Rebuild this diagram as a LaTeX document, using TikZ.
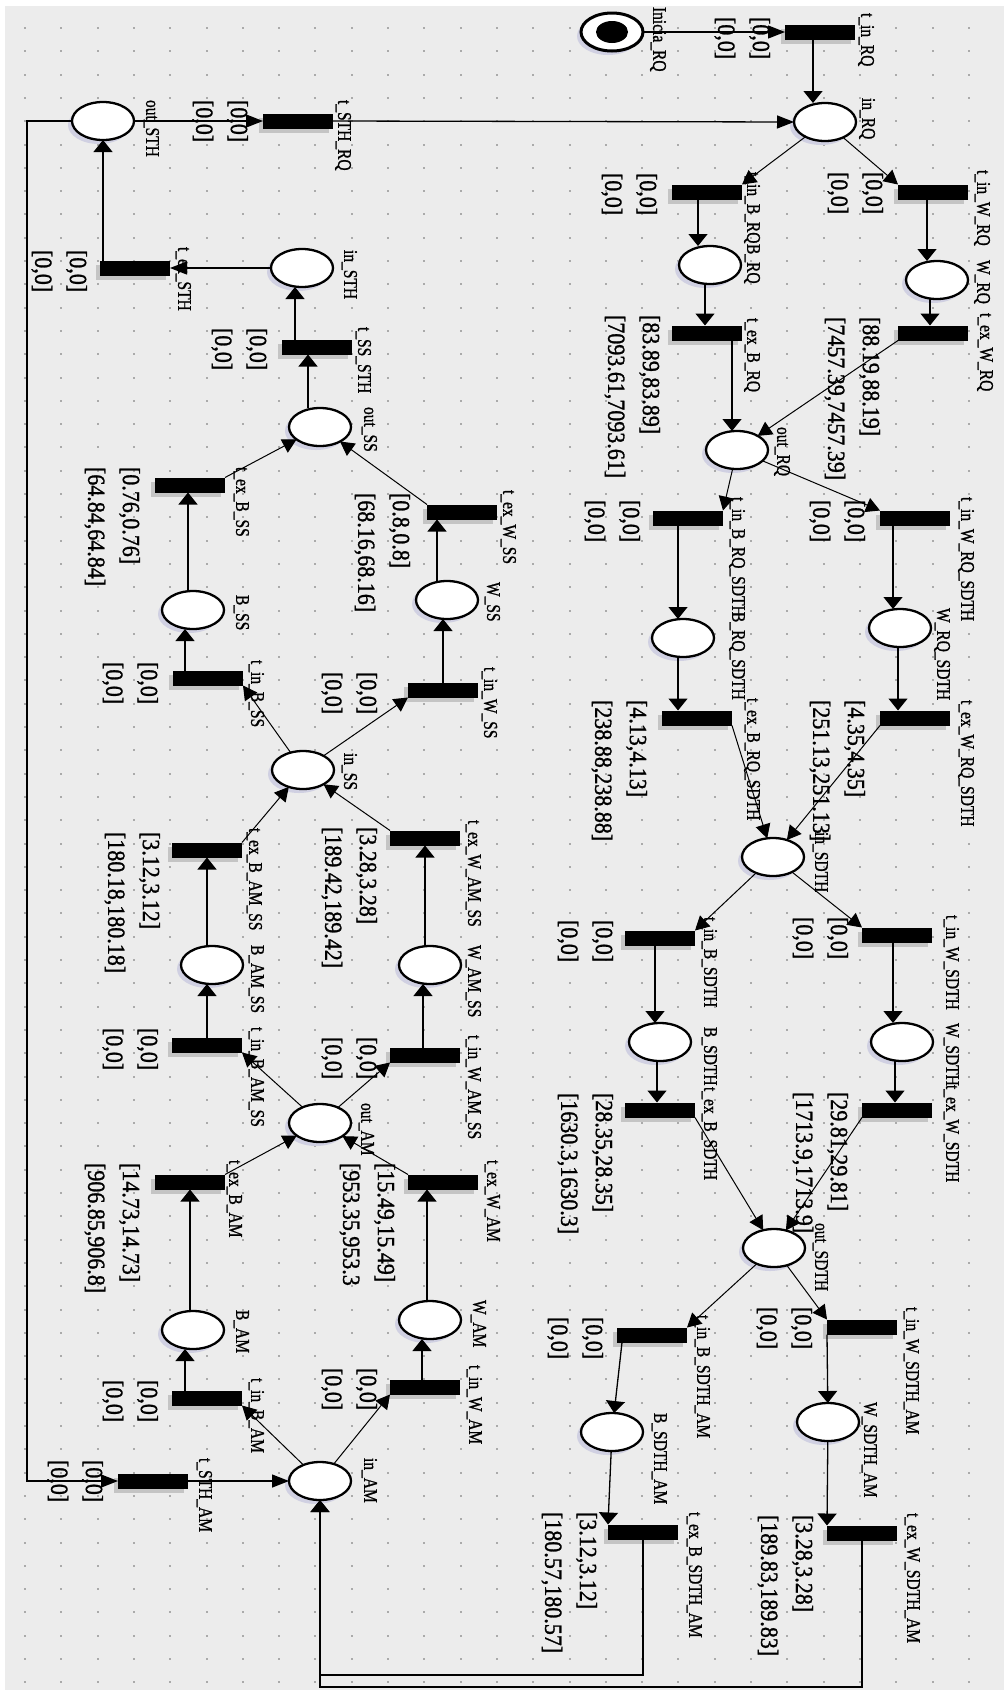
\documentclass[tikz,border=0pt]{standalone}
\usepackage{fontspec}
\setmainfont{Liberation Serif}
\newfontfamily\lblfont[FakeBold=1.2]{Liberation Serif}
\usetikzlibrary{arrows.meta,shapes.geometric,shadows}
\definecolor{bgc}{RGB}{236,236,236}
\definecolor{dotc}{RGB}{170,170,170}
\definecolor{pshadow}{RGB}{208,208,226}
\definecolor{tshadow}{RGB}{196,196,196}
\newcommand\nlab[4]{\node[nlabel] (#1) at (#2,#3) {#4};}
\newcommand\ilab[5]{\node[ilabel] (#1) at (#2,#3) {#4\\\relax #5};}
\newcommand\zlab[3]{\ilab{#1}{#2}{#3}{[0,0]}{[0,0]}}
\begin{document}
\begin{tikzpicture}[x=1pt,y=-1pt,
  place/.style={ellipse, draw=black, line width=2.3pt, fill=white, minimum width=62pt, minimum height=38pt, inner sep=0pt, outer sep=0pt, drop shadow={shadow xshift=-4pt, shadow yshift=-4pt, fill=pshadow, opacity=1}},
  trans/.style={rectangle, fill=black, minimum width=70pt, minimum height=15pt, inner sep=0pt, outer sep=0pt, drop shadow={shadow xshift=-4pt, shadow yshift=-4pt, fill=tshadow, opacity=1}},
  nlabel/.style={rotate=-90, yscale=1.25, anchor=north west, inner sep=0pt, outer sep=0pt, font=\lblfont\fontsize{15.5}{18}\selectfont},
  ilabel/.style={rotate=-90, yscale=1.12, anchor=north west, inner sep=0pt, outer sep=0pt, align=left, font=\lblfont\fontsize{22}{31}\selectfont},
  varc/.style={line width=1.3pt, -{Triangle[length=12pt,width=19pt]}},
  harc/.style={line width=1.3pt, -{Triangle[length=17pt,width=13pt]}},
  darc/.style={line width=1pt, -{Triangle[length=14pt,width=15pt]}}]
\useasboundingbox (0,0) rectangle (1004,1690);
\fill[white] (0,0) rectangle (1004,1690);
\fill[bgc] (5,6) rectangle (1004,1690);
\foreach \i in {0,...,27}{\foreach \j in {0,...,71}{\fill[dotc] ({24+36.3*\i},{27+23.3*\j}) rectangle ++(2,2);}}

% places
\node[place, line width=3pt] (init) at (612,32) {};
\fill (init.center) ellipse [x radius=16, y radius=11];
\node[place] (in_RQ) at (825,122) {};
\node[place] (B_RQ) at (710,265) {};
\node[place] (W_RQ) at (937,280) {};
\node[place] (out_RQ) at (737,450) {};
\node[place] (B_RQ_SDTH) at (683,638) {};
\node[place] (W_RQ_SDTH) at (900,628) {};
\node[place] (in_SDTH) at (773,857) {};
\node[place] (B_SDTH) at (660,1042) {};
\node[place] (W_SDTH) at (902,1042) {};
\node[place] (out_SDTH) at (774,1248) {};
\node[place] (B_SDTH_AM) at (612,1432) {};
\node[place] (W_SDTH_AM) at (828,1422) {};
\node[place] (in_AM) at (320,1481) {};
\node[place] (B_AM) at (193,1330) {};
\node[place] (W_AM) at (430,1320) {};
\node[place] (out_AM) at (320,1123) {};
\node[place] (B_AM_SS) at (212,965) {};
\node[place] (W_AM_SS) at (430,965) {};
\node[place] (in_SS) at (303,770) {};
\node[place] (B_SS) at (193,610) {};
\node[place] (W_SS) at (447,600) {};
\node[place] (out_SS) at (320,427) {};
\node[place] (in_STH) at (302,268) {};
\node[place] (out_STH) at (103,121) {};

% transitions
\node[trans] (t_in_RQ) at (820,32) {};
\node[trans] (t_in_B_RQ) at (707,192) {};
\node[trans] (t_in_W_RQ) at (933,192) {};
\node[trans] (t_ex_B_RQ) at (707,333) {};
\node[trans] (t_ex_W_RQ) at (933,333) {};
\node[trans] (t_in_B_RQ_SDTH) at (688,518) {};
\node[trans] (t_in_W_RQ_SDTH) at (915,518) {};
\node[trans] (t_ex_B_RQ_SDTH) at (697,718) {};
\node[trans] (t_ex_W_RQ_SDTH) at (915,718) {};
\node[trans] (t_in_B_SDTH) at (660,938) {};
\node[trans] (t_in_W_SDTH) at (897,935) {};
\node[trans] (t_ex_B_SDTH) at (660,1110) {};
\node[trans] (t_ex_W_SDTH) at (897,1110) {};
\node[trans] (t_in_B_SDTH_AM) at (652,1335) {};
\node[trans] (t_in_W_SDTH_AM) at (862,1327) {};
\node[trans] (t_ex_B_SDTH_AM) at (643,1532) {};
\node[trans] (t_ex_W_SDTH_AM) at (862,1533) {};
\node[trans] (t_STH_AM) at (153,1481) {};
\node[trans] (t_in_B_AM) at (207,1398) {};
\node[trans] (t_in_W_AM) at (425,1387) {};
\node[trans] (t_ex_B_AM) at (190,1182) {};
\node[trans] (t_ex_W_AM) at (443,1182) {};
\node[trans] (t_in_B_AM_SS) at (207,1045) {};
\node[trans] (t_in_W_AM_SS) at (425,1055) {};
\node[trans] (t_ex_B_AM_SS) at (207,850) {};
\node[trans] (t_ex_W_AM_SS) at (425,838) {};
\node[trans] (t_in_B_SS) at (208,678) {};
\node[trans] (t_in_W_SS) at (443,690) {};
\node[trans] (t_ex_B_SS) at (190,485) {};
\node[trans] (t_ex_W_SS) at (462,512) {};
\node[trans] (t_SS_STH) at (317,347) {};
\node[trans] (t_ex_STH) at (135,268) {};
\node[trans] (t_STH_RQ) at (298,121) {};

\coordinate (r1) at (320,1675);
\coordinate (r2) at (320,1687);
\coordinate (l1) at (27,800);

% arcs
\draw[harc] (init.east) -- (t_in_RQ.west);
\draw[varc] ([xshift=-7pt]t_in_RQ.south) -- ([xshift=-12pt]in_RQ.north);
\draw[harc] (t_STH_RQ.east) -- (in_RQ.west);
\draw[harc] (out_STH.east) -- (t_STH_RQ.west);
\draw[darc] (in_RQ) -- (t_in_B_RQ.north east);
\draw[darc] (in_RQ) -- (t_in_W_RQ.north west);
\draw[varc] ([xshift=-9pt]t_in_B_RQ.south) -- ([xshift=-12pt]B_RQ.north);
\draw[varc] ([xshift=-6pt]t_in_W_RQ.south) -- ([xshift=-10pt]W_RQ.north);
\draw[varc] ([xshift=-5pt]B_RQ.south) -- ([xshift=-2pt]t_ex_B_RQ.north);
\draw[varc] ([xshift=-7pt]W_RQ.south) -- ([xshift=-3pt]t_ex_W_RQ.north);
\draw[varc] ([xshift=25pt]t_ex_B_RQ.south) -- ([xshift=-5pt]out_RQ.north);
\draw[darc] (t_ex_W_RQ.south west) -- (out_RQ);
\draw[darc] (out_RQ) -- (t_in_B_RQ_SDTH.north east);
\draw[darc] (out_RQ) -- (t_in_W_RQ_SDTH.north west);
\draw[varc] ([xshift=-10pt]t_in_B_RQ_SDTH.south) -- ([xshift=-5pt]B_RQ_SDTH.north);
\draw[varc] ([xshift=-5pt]B_RQ_SDTH.south) -- ([xshift=-19pt]t_ex_B_RQ_SDTH.north);
\draw[varc] ([xshift=-22pt]t_in_W_RQ_SDTH.south) -- ([xshift=-7pt]W_RQ_SDTH.north);
\draw[varc] ([xshift=-2pt]W_RQ_SDTH.south) -- ([xshift=-17pt]t_ex_W_RQ_SDTH.north);
\draw[darc] (t_ex_B_RQ_SDTH.south east) -- (in_SDTH);
\draw[darc] (t_ex_W_RQ_SDTH.south west) -- (in_SDTH);
\draw[darc] (in_SDTH) -- (t_in_B_SDTH.north east);
\draw[darc] (in_SDTH) -- (t_in_W_SDTH.north west);
\draw[varc] ([xshift=-5pt]t_in_B_SDTH.south) -- ([xshift=-5pt]B_SDTH.north);
\draw[varc] ([xshift=-3pt]B_SDTH.south) -- ([xshift=-3pt]t_ex_B_SDTH.north);
\draw[varc] ([xshift=-4pt]t_in_W_SDTH.south) -- ([xshift=-9pt]W_SDTH.north);
\draw[varc] ([xshift=-7pt]W_SDTH.south) -- ([xshift=-2pt]t_ex_W_SDTH.north);
\draw[darc] (t_ex_B_SDTH.south east) -- (out_SDTH);
\draw[darc] (t_ex_W_SDTH.south west) -- (out_SDTH);
\draw[darc] (out_SDTH) -- (t_in_B_SDTH_AM.north east);
\draw[darc] (out_SDTH) -- (t_in_W_SDTH_AM.north west);
\draw[varc] ([xshift=5pt]t_in_B_SDTH_AM.south west) -- (B_SDTH_AM);
\draw[varc] (t_in_W_SDTH_AM.south west) -- (W_SDTH_AM);
\draw[varc] (B_SDTH_AM) -- (t_ex_B_SDTH_AM.north west);
\draw[varc] (W_SDTH_AM) -- (t_ex_W_SDTH_AM.north west);
\draw[varc] (t_ex_B_SDTH_AM.south) |- (r1) -- (in_AM.south);
\draw[varc] (t_ex_W_SDTH_AM.south) |- (r2) -- (in_AM.south);
\draw[harc] (t_STH_AM.east) -- (in_AM.west);
\draw[harc] (out_STH.west) -| (l1) |- (t_STH_AM.west);
\draw[darc] (in_AM) -- (t_in_B_AM.south east);
\draw[darc] (in_AM) -- (t_in_W_AM.south west);
\draw[varc] ([xshift=-22pt]t_in_B_AM.north) -- ([xshift=-8pt]B_AM.south);
\draw[varc] ([xshift=-3pt]t_in_W_AM.north) -- ([xshift=-8pt]W_AM.south);
\draw[varc] ([xshift=-3pt]B_AM.north) -- (t_ex_B_AM.south);
\draw[varc] ([xshift=-3pt]W_AM.north) -- ([xshift=-16pt]t_ex_W_AM.south);
\draw[darc] (t_ex_B_AM.north east) -- (out_AM);
\draw[darc] (t_ex_W_AM.north west) -- (out_AM);
\draw[darc] (out_AM) -- (t_in_B_AM_SS.south east);
\draw[darc] (out_AM) -- (t_in_W_AM_SS.south west);
\draw[varc] (t_in_B_AM_SS.north) -- ([xshift=-5pt]B_AM_SS.south);
\draw[varc] ([xshift=-5pt]B_AM_SS.north) -- (t_ex_B_AM_SS.south);
\draw[varc] ([xshift=-2pt]t_in_W_AM_SS.north) -- ([xshift=-7pt]W_AM_SS.south);
\draw[varc] ([xshift=-5pt]W_AM_SS.north) -- (t_ex_W_AM_SS.south);
\draw[darc] (t_ex_B_AM_SS.north east) -- (in_SS);
\draw[darc] (t_ex_W_AM_SS.north west) -- (in_SS);
\draw[darc] (in_SS) -- (t_in_B_SS.south east);
\draw[darc] (in_SS) -- (t_in_W_SS.south west);
\draw[varc] ([xshift=-23pt]t_in_B_SS.north) -- ([xshift=-8pt]B_SS.south);
\draw[varc] (t_in_W_SS.north) -- ([xshift=-4pt]W_SS.south);
\draw[varc] ([xshift=-5pt]B_SS.north) -- ([xshift=-2pt]t_ex_B_SS.south);
\draw[varc] ([xshift=-10pt]W_SS.north) -- ([xshift=-25pt]t_ex_W_SS.south);
\draw[darc] (t_ex_B_SS.north east) -- (out_SS);
\draw[darc] (t_ex_W_SS.north west) -- (out_SS);
\draw[varc] ([xshift=-12pt]out_SS.north) -- ([xshift=-9pt]t_SS_STH.south);
\draw[varc] ([xshift=-22pt]t_SS_STH.north) -- ([xshift=-7pt]in_STH.south);
\draw[harc] (in_STH.west) -- (t_ex_STH.east);
\draw[varc] ([xshift=-32pt]t_ex_STH.north) -- (out_STH.south);

% name labels
\nlab{Linit}{666}{7}{Inicia\_RQ}
\nlab{Lt_in_RQ}{874}{13}{t\_in\_RQ}
\nlab{Lin_RQ}{875}{98}{in\_RQ}
\nlab{Lt_in_B_RQ}{760}{172}{t\_in\_B\_RQ}
\nlab{LB_RQ}{760}{244}{B\_RQ}
\nlab{Lt_in_W_RQ}{990}{170}{t\_in\_W\_RQ}
\nlab{LW_RQ}{990}{260}{W\_RQ}
\nlab{Lt_ex_B_RQ}{760}{318}{t\_ex\_B\_RQ}
\nlab{Lt_ex_W_RQ}{993}{313}{t\_ex\_W\_RQ}
\nlab{Lout_RQ}{790}{427}{out\_RQ}
\nlab{Lt_in_B_RQ_SDTH}{745}{497}{t\_in\_B\_RQ\_SDTH}
\nlab{LB_RQ_SDTH}{745}{612}{B\_RQ\_SDTH}
\nlab{Lt_ex_B_RQ_SDTH}{760}{698}{t\_ex\_B\_RQ\_SDTH}
\nlab{Lt_in_W_RQ_SDTH}{974}{497}{t\_in\_W\_RQ\_SDTH}
\nlab{LW_RQ_SDTH}{950}{608}{W\_RQ\_SDTH}
\nlab{Lt_ex_W_RQ_SDTH}{974}{700}{t\_ex\_W\_RQ\_SDTH}
\nlab{Lin_SDTH}{828}{832}{in\_SDTH}
\nlab{Lt_in_B_SDTH}{717}{917}{t\_in\_B\_SDTH}
\nlab{LB_SDTH}{717}{1027}{B\_SDTH}
\nlab{Lt_ex_B_SDTH}{717}{1087}{t\_ex\_B\_SDTH}
\nlab{Lt_in_W_SDTH}{959}{915}{t\_in\_W\_SDTH}
\nlab{LW_SDTH}{959}{1023}{W\_SDTH}
\nlab{Lt_ex_W_SDTH}{959}{1085}{t\_ex\_W\_SDTH}
\nlab{Lout_SDTH}{828}{1223}{out\_SDTH}
\nlab{Lt_in_B_SDTH_AM}{710}{1315}{t\_in\_B\_SDTH\_AM}
\nlab{LB_SDTH_AM}{667}{1413}{B\_SDTH\_AM}
\nlab{Lt_ex_B_SDTH_AM}{702}{1512}{t\_ex\_B\_SDTH\_AM}
\nlab{Lt_in_W_SDTH_AM}{919}{1307}{t\_in\_W\_SDTH\_AM}
\nlab{LW_SDTH_AM}{877}{1402}{W\_SDTH\_AM}
\nlab{Lt_ex_W_SDTH_AM}{920}{1513}{t\_ex\_W\_SDTH\_AM}
\nlab{Lin_AM}{377}{1458}{in\_AM}
\nlab{Lt_STH_AM}{212}{1458}{t\_STH\_AM}
\nlab{Lt_in_B_AM}{264}{1378}{t\_in\_B\_AM}
\nlab{LB_AM}{249}{1310}{B\_AM}
\nlab{Lt_in_W_AM}{482}{1365}{t\_in\_W\_AM}
\nlab{LW_AM}{486}{1300}{W\_AM}
\nlab{Lt_ex_B_AM}{242}{1160}{t\_ex\_B\_AM}
\nlab{Lt_ex_W_AM}{500}{1160}{t\_ex\_W\_AM}
\nlab{Lout_AM}{374}{1103}{out\_AM}
\nlab{Lt_in_B_AM_SS}{264}{1027}{t\_in\_B\_AM\_SS}
\nlab{LB_AM_SS}{264}{945}{B\_AM\_SS}
\nlab{Lt_ex_B_AM_SS}{262}{828}{t\_ex\_B\_AM\_SS}
\nlab{Lt_in_W_AM_SS}{481}{1035}{t\_in\_W\_AM\_SS}
\nlab{LW_AM_SS}{481}{945}{W\_AM\_SS}
\nlab{Lt_ex_W_AM_SS}{481}{820}{t\_ex\_W\_AM\_SS}
\nlab{Lin_SS}{357}{753}{in\_SS}
\nlab{Lt_in_B_SS}{264}{660}{t\_in\_B\_SS}
\nlab{LB_SS}{249}{595}{B\_SS}
\nlab{Lt_ex_B_SS}{249}{467}{t\_ex\_B\_SS}
\nlab{Lt_in_W_SS}{497}{667}{t\_in\_W\_SS}
\nlab{LW_SS}{500}{582}{W\_SS}
\nlab{Lt_ex_W_SS}{516}{490}{t\_ex\_W\_SS}
\nlab{Lout_SS}{377}{407}{out\_SS}
\nlab{Lt_SS_STH}{371}{327}{t\_SS\_STH}
\nlab{Lin_STH}{357}{250}{in\_STH}
\nlab{Lt_ex_STH}{191}{247}{t\_ex\_STH}
\nlab{Lout_STH}{159}{100}{out\_STH}
\nlab{Lt_STH_RQ}{351}{100}{t\_STH\_RQ}

% interval labels
\zlab{It_in_RQ}{770}{17}
\zlab{It_in_B_RQ}{657}{173}
\zlab{It_in_W_RQ}{883}{172}
\ilab{It_ex_B_RQ}{660}{315}{[83.89,83.89]}{[7093.61,7093.61]}
\ilab{It_ex_W_RQ}{880}{317}{[88.19,88.19]}{[7457.39,7457.39]}
\zlab{It_in_B_RQ_SDTH}{640}{500}
\zlab{It_in_W_RQ_SDTH}{865}{500}
\ilab{It_ex_B_RQ_SDTH}{647}{700}{[4.13,4.13]}{[238.88,238.88]}
\ilab{It_ex_W_RQ_SDTH}{865}{700}{[4.35,4.35]}{[251.13,251.13]}
\zlab{It_in_B_SDTH}{613}{920}
\zlab{It_in_W_SDTH}{848}{917}
\ilab{It_ex_B_SDTH}{613}{1093}{[28.35,28.35]}{[1630.3,1630.3]}
\ilab{It_ex_W_SDTH}{848}{1092}{[29.81,29.81]}{[1713.9,1713.9]}
\zlab{It_in_B_SDTH_AM}{603}{1317}
\zlab{It_in_W_SDTH_AM}{812}{1307}
\ilab{It_ex_B_SDTH_AM}{597}{1512}{[3.12,3.12]}{[180.57,180.57]}
\ilab{It_ex_W_SDTH_AM}{813}{1515}{[3.28,3.28]}{[189.83,189.83]}
\zlab{It_STH_AM}{103}{1460}
\zlab{It_in_B_AM}{158}{1380}
\zlab{It_in_W_AM}{377}{1368}
\ilab{It_ex_B_AM}{140}{1163}{[14.73,14.73]}{[906.85,906.8]}
\ilab{It_ex_W_AM}{395}{1163}{[15.49,15.49]}{[953.35,953.3}
\zlab{It_in_B_AM_SS}{158}{1028}
\zlab{It_in_W_AM_SS}{377}{1037}
\ilab{It_ex_B_AM_SS}{160}{832}{[3.12,3.12]}{[180.18,180.18]}
\ilab{It_ex_W_AM_SS}{377}{827}{[3.28,3.28]}{[189.42,189.42]}
\zlab{It_in_B_SS}{158}{662}
\zlab{It_in_W_SS}{377}{672}
\ilab{It_ex_B_SS}{140}{467}{[0.76,0.76]}{[64.84,64.84]}
\ilab{It_ex_W_SS}{410}{493}{[0.8,0.8]}{[68.16,68.16]}
\zlab{It_SS_STH}{267}{328}
\zlab{It_ex_STH}{87}{250}
\zlab{It_STH_RQ}{248}{100}
\end{tikzpicture}
\end{document}
